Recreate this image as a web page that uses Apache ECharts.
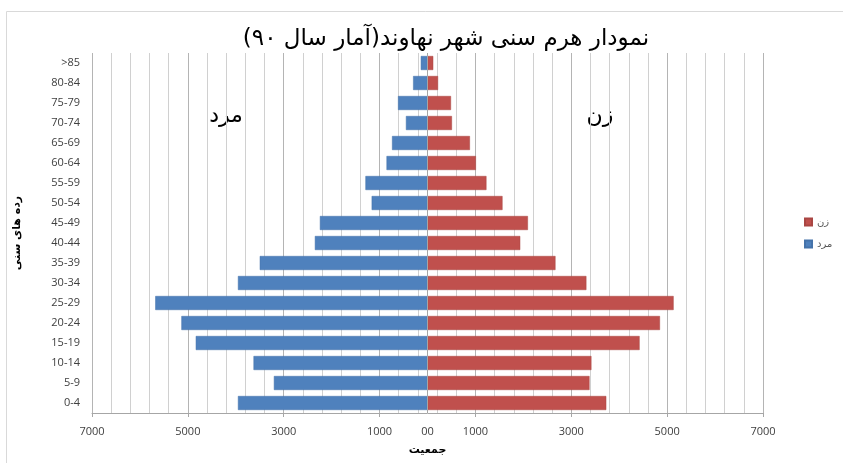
<!DOCTYPE html>
<html>
<head>
<meta charset="utf-8">
<style>html,body{margin:0;padding:0;background:#fff;}#main{width:843px;height:463px;}</style>
<script src="https://cdn.jsdelivr.net/npm/echarts@6/dist/echarts.min.js"></script>
</head>
<body>
<div id="main"></div>
<script>
const categories = ['0-4','5-9','10-14','15-19','20-24','25-29','30-34','35-39','40-44','45-49','50-54','55-59','60-64','65-69','70-74','75-79','80-84','>85'];
const men = [3955, 3205, 3630, 4835, 5135, 5680, 3955, 3500, 2350, 2245, 1165, 1295, 855, 740, 450, 615, 300, 140];
const women = [3730, 3380, 3420, 4425, 4850, 5135, 3315, 2670, 1935, 2095, 1565, 1230, 1010, 885, 510, 490, 220, 120];
const xLabelValues = [-7000, -5000, -3000, -1000, 0, 1000, 3000, 5000, 7000];

const fa = 'DejaVu Sans';
const chart = echarts.init(document.getElementById('main'));
chart.setOption({
  animation: false,
  title: {
    text: 'نمودار هرم سنی شهر نهاوند(آمار سال ۹۰)\u200F',
    left: 441, top: 23, textAlign: 'center',
    textStyle: {fontFamily: fa, fontSize: 23, fontWeight: 'normal', color: '#000'}
  },
  legend: {
    orient: 'vertical', left: 799, top: 212,
    itemWidth: 7, itemHeight: 7, itemGap: 12, icon: 'rect',
    data: ['زن', 'مرد'],
    textStyle: {fontFamily: fa, fontSize: 10, color: '#595959'}
  },
  grid: {left: 92, right: 80, top: 53, bottom: 50, containLabel: false},
  xAxis: [
    {
      type: 'value', min: -7000, max: 7000, interval: 400, position: 'bottom',
      axisLine: {show: true, onZero: false, lineStyle: {color: '#a6a6a6'}},
      axisTick: {show: false}, axisLabel: {show: false},
      splitLine: {show: true, lineStyle: {color: '#d0d0d0', width: 1}}
    },
    {
      type: 'value', min: -7000, max: 7000, interval: 2000, position: 'bottom',
      axisLine: {show: false}, axisLabel: {show: false},
      axisTick: {show: true, length: 4, lineStyle: {color: '#a6a6a6'}},
      splitLine: {show: true, lineStyle: {color: '#b4b4b4', width: 1}}
    },
    {
      type: 'value', min: -7000, max: 7000, interval: 1000, position: 'bottom',
      axisLine: {show: false}, axisTick: {show: false}, splitLine: {show: false},
      axisLabel: {
        show: true, margin: 13, color: '#404040', fontFamily: 'Open Sans', fontSize: 11,
        formatter: v => v === 0 ? '00' : (xLabelValues.indexOf(v) >= 0 ? String(Math.abs(v)) : '')
      },
      name: 'جمعیت', nameLocation: 'middle', nameGap: 32,
      nameTextStyle: {fontFamily: fa, fontSize: 11, fontWeight: 'bold', color: '#000'}
    }
  ],
  yAxis: {
    type: 'category', data: categories,
    axisLine: {show: false}, axisTick: {show: false}, splitLine: {show: false},
    axisLabel: {color: '#404040', fontFamily: 'Open Sans', fontSize: 11, margin: 12},
    name: 'رده های سنی', nameLocation: 'middle', nameRotate: 90, nameGap: 69,
    nameTextStyle: {fontFamily: fa, fontSize: 11, fontWeight: 'bold', color: '#000'}
  },
  graphic: [
    {type: 'rect', silent: true, z: -10, shape: {x: 6.5, y: 11.5, width: 900, height: 500},
     style: {fill: 'none', stroke: '#d9d9d9', lineWidth: 1}},
    {type: 'text', x: 226, y: 116, silent: true,
     style: {text: 'مرد', fontFamily: fa, fontSize: 22, fill: '#000', align: 'center', verticalAlign: 'middle'}},
    {type: 'text', x: 600, y: 116, silent: true,
     style: {text: 'زن', fontFamily: fa, fontSize: 22, fill: '#000', align: 'center', verticalAlign: 'middle'}}
  ],
  series: [
    {
      name: 'مرد', type: 'bar', stack: 'total', xAxisIndex: 0, barWidth: '70%',
      itemStyle: {color: '#4F81BD', borderColor: '#4573aa', borderWidth: 0.5},
      data: men.map(v => -v)
    },
    {
      name: 'زن', type: 'bar', stack: 'total', xAxisIndex: 0, barWidth: '70%',
      itemStyle: {color: '#C0504D', borderColor: '#a94643', borderWidth: 0.5},
      data: women,
      markLine: {
        silent: true, symbol: 'none', label: {show: false},
        lineStyle: {color: '#a6a6a6', width: 1, type: 'solid'},
        data: [{xAxis: 0}]
      }
    }
  ]
});
</script>
</body>
</html>
